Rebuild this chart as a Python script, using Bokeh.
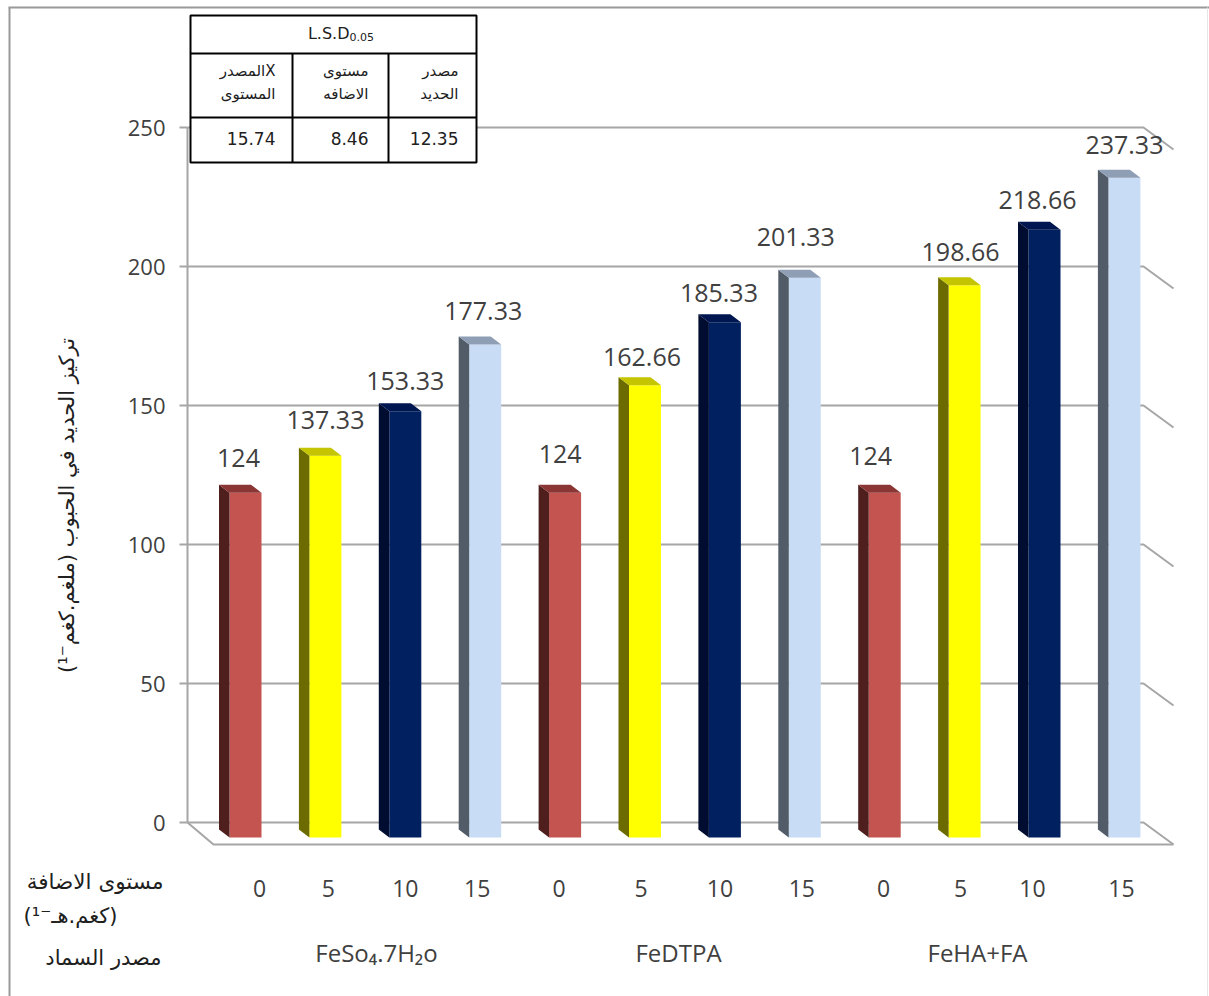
import math

from bokeh.embed import file_html
from bokeh.models import FixedTicker, LinearAxis, Range1d
from bokeh.plotting import figure
from bokeh.core.properties import value
from bokeh.resources import INLINE

# Iron concentration by fertiliser source and application level
SOURCES = ["FeSo\u2084.7H\u2082o", "FeDTPA", "FeHA+FA"]
LEVELS = ["0", "5", "10", "15"]
FESO4 = [124, 137.33, 153.33, 177.33]
FEDTPA = [124, 162.66, 185.33, 201.33]
FEHAFA = [124, 198.66, 218.66, 237.33]
Y_TICKS = [0, 50, 100, 150, 200, 250]

# Least significant difference table
LSD_VALUES = ["15.74", "8.46", "12.35"]
LSD_HEADERS = [["\u0627\u0644\u0645\u0635\u062f\u0631X", "\u0627\u0644\u0645\u0633\u062a\u0648\u0649"],
               ["\u0645\u0633\u062a\u0648\u0649", "\u0627\u0644\u0627\u0636\u0627\u0641\u0647"],
               ["\u0645\u0635\u062f\u0631", "\u0627\u0644\u062d\u062f\u064a\u062f"]]

Y_TITLE = "\u062a\u0631\u0643\u064a\u0632 \u0627\u0644\u062d\u062f\u064a\u062f \u0641\u064a \u0627\u0644\u062d\u0628\u0648\u0628 (\u0645\u0644\u063a\u0645.\u0643\u063a\u0645\u207b\u00b9)"
LEVEL_TITLE = "\u0645\u0633\u062a\u0648\u0649 \u0627\u0644\u0627\u0636\u0627\u0641\u0629"
UNIT_TITLE = "(\u0643\u063a\u0645.\u0647\u0640\u207b\u00b9)"
SOURCE_TITLE = "\u0645\u0635\u062f\u0631 \u0627\u0644\u0633\u0645\u0627\u062f"

# Page geometry
W, H = 1209, 996
PX_PER_VALUE = 2.78
PX_PER_SLOT = 79.9
ZERO_PY = 822
FIRST_SLOT_PX = 245

# 3-D look of the bars and the chart box, in pixels
BAR_PX = 32
SIDE_DX, SIDE_DY = 10.5, 8
FRONT_DROP = 15
FLOOR_DX, FLOOR_DY = 30, 22
WALL_LEFT, WALL_RIGHT = 187, 1143

# Hand placement of the data labels and level labels relative to their bars
LABEL_DX = [-7, 0, 0, -2, -5, -3, -6, -9, -14, -4, -7, 0]
LABEL_DY = [35, 36, 30, 34, 39, 28, 29, 41, 37, 33, 30, 33]
LEVEL_DX = [14, 3, 0, -8, -6, -4, -5, -3, -1, -4, -12, -3]

FACE = ["#C4544F", "#FFFF00", "#002060", "#C9DCF5"]
SIDE = ["#4F1F1E", "#6B6B00", "#000D30", "#515C68"]
TOP = ["#8B3634", "#C4C400", "#001650", "#8E9EB4"]

INK = "#404040"
WALL = "#A6A6A6"
DARK = "#202020"
ARABIC = "DejaVu Sans"
LATIN = "Open Sans"


def xd(px):
    return (px - FIRST_SLOT_PX) / PX_PER_SLOT


def yd(py):
    return (ZERO_PY - py) / PX_PER_VALUE


p = figure(
    width=W, height=H,
    x_range=Range1d(xd(0), xd(W)),
    y_range=Range1d(yd(H), yd(0)),
    x_axis_location=None,
    y_axis_location=None,
    toolbar_location=None,
    output_backend="svg",
    min_border=0,
)
p.outline_line_color = None
p.grid.visible = False
p.background_fill_color = "white"
p.border_fill_color = "white"

# Thin page border
p.multi_line(
    [[xd(9), xd(9)], [xd(8), xd(W)]],
    [[yd(7), yd(H)], [yd(7), yd(7)]],
    line_color="#999999", line_width=2,
)
p.multi_line([[xd(W - 2), xd(W - 2)]], [[yd(7), yd(H)]], line_color="#E6E6E6", line_width=1)

# Value axis standing on the back wall's left edge
axis = LinearAxis(fixed_location=xd(WALL_LEFT))
axis.ticker = FixedTicker(ticks=Y_TICKS)
axis.bounds = (min(Y_TICKS), max(Y_TICKS))
axis.axis_line_color = WALL
axis.axis_line_width = 2
axis.major_tick_line_color = WALL
axis.major_tick_line_width = 2
axis.major_tick_in = 0
axis.major_tick_out = 8
axis.minor_tick_line_color = None
axis.major_label_standoff = 14
axis.major_label_text_font = LATIN
axis.major_label_text_font_size = "22px"
axis.major_label_text_color = INK
p.add_layout(axis, "left")

# Back wall gridlines with their side-wall returns, plus the floor
dx_floor = FLOOR_DX / PX_PER_SLOT
dy_floor = FLOOR_DY / PX_PER_VALUE
wall_xs, wall_ys = [], []
for t in Y_TICKS:
    wall_xs.append([xd(WALL_LEFT), xd(WALL_RIGHT), xd(WALL_RIGHT) + dx_floor])
    wall_ys.append([t, t, t - dy_floor])
wall_xs.append([xd(WALL_LEFT), xd(WALL_LEFT + 26), xd(WALL_RIGHT) + dx_floor])
wall_ys.append([0, -dy_floor, -dy_floor])
p.multi_line(wall_xs, wall_ys, line_color=WALL, line_width=2)

# Bars: front face, side face and top face for every slot
values = FESO4 + FEDTPA + FEHAFA
half = BAR_PX / 2 / PX_PER_SLOT
sx = SIDE_DX / PX_PER_SLOT
sy = SIDE_DY / PX_PER_VALUE
base = -FRONT_DROP / PX_PER_VALUE
slots = list(range(len(values)))
colour_idx = [i % len(LEVELS) for i in slots]
tops = [v + base for v in values]

p.quad(left=[i - half for i in slots], right=[i + half for i in slots],
       bottom=[base] * len(slots), top=tops,
       fill_color=[FACE[c] for c in colour_idx], line_color=None)
p.patches(
    [[i - half - sx, i - half, i - half, i - half - sx] for i in slots],
    [[base + sy, base, v, v + sy] for v in tops],
    fill_color=[SIDE[c] for c in colour_idx], line_color=None)
p.patches(
    [[i - half - sx, i + half - sx, i + half, i - half] for i in slots],
    [[v + sy, v + sy, v, v] for v in tops],
    fill_color=[TOP[c] for c in colour_idx], line_color=None)


def put(xs, pys, texts, font, size, colour=INK, align="center", angle=0.0):
    p.text(xs, [yd(py) for py in pys], text=texts,
           text_font=value(font), text_font_size=size, text_color=colour,
           text_align=align, text_baseline="middle", angle=angle)


# Value labels above the bars
p.text(
    [i + d / PX_PER_SLOT for i, d in zip(slots, LABEL_DX)],
    [v + d / PX_PER_VALUE for v, d in zip(tops, LABEL_DY)],
    text=[f"{v:g}" for v in values],
    text_font=value(LATIN), text_font_size="25px", text_color=INK,
    text_align="center", text_baseline="middle",
)

# Application levels and source names under the floor
put([i + d / PX_PER_SLOT for i, d in zip(slots, LEVEL_DX)], [888] * len(slots),
    LEVELS * len(SOURCES), LATIN, "23px")
put([xd(376), xd(678), xd(977)], [952] * 3, SOURCES, LATIN, "24px")

# LSD table over the top-left corner of the wall
T_COLS = [190, 292, 388, 476]
T_ROWS = [15, 53, 117, 162]
p.quad(left=[xd(T_COLS[0])], right=[xd(T_COLS[-1])], top=[yd(T_ROWS[0])], bottom=[yd(T_ROWS[-1])],
       fill_color="white", line_color="black", line_width=2)
p.multi_line(
    [[xd(T_COLS[0]), xd(T_COLS[-1])] for _ in T_ROWS[1:3]] + [[xd(c), xd(c)] for c in T_COLS[1:3]],
    [[yd(r), yd(r)] for r in T_ROWS[1:3]] + [[yd(T_ROWS[1]), yd(T_ROWS[-1])] for _ in T_COLS[1:3]],
    line_color="black", line_width=2,
)
cells = [xd(c) for c in (275, 368, 458)]
put(cells, [138] * 3, LSD_VALUES, ARABIC, "17px", DARK, "right")
put(cells, [70] * 3, [h[0] for h in LSD_HEADERS], ARABIC, "15px", DARK, "right")
put(cells, [93] * 3, [h[1] for h in LSD_HEADERS], ARABIC, "15px", DARK, "right")
put([xd(349)], [33], ["L.S.D"], ARABIC, "16px", DARK, "right")
put([xd(349)], [36], ["0.05"], ARABIC, "11px", DARK, "left")

# Titles to the left of the chart box
put([xd(66)], [505], [Y_TITLE], ARABIC, "21px", DARK, "center", math.pi / 2)
put([xd(163)], [881], [LEVEL_TITLE], ARABIC, "21.5px", DARK, "right")
put([xd(117)], [915], [UNIT_TITLE], ARABIC, "21px", DARK, "right")
put([xd(161)], [957], [SOURCE_TITLE], ARABIC, "21px", DARK, "right")

open("out.html", "w").write(file_html(p, INLINE))
